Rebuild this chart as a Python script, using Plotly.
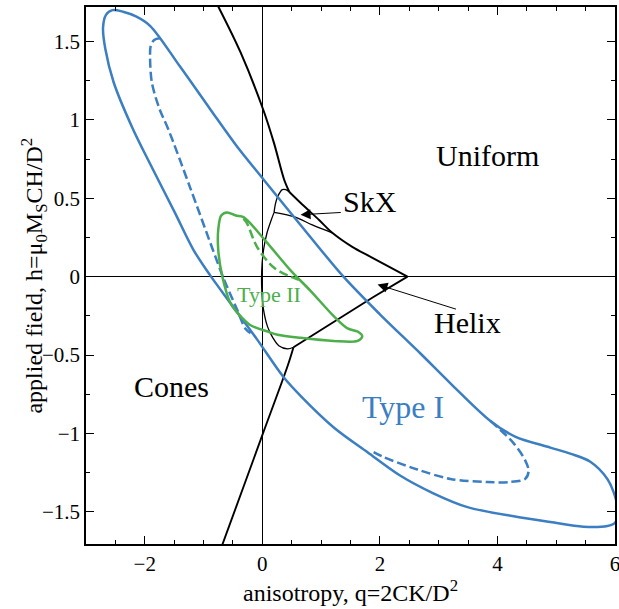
import plotly.graph_objects as go

# ---------------- data (q = anisotropy, h = applied field) ----------------
TYPE1_OUTER_Q = [0.02, 0.65, 1.38, 2.0, 2.69, 3.2, 3.88, 4.3, 4.9, 5.25, 5.58, 5.87, 6.0, 6.05, 6.0, 5.87,
                 5.46, 4.9, 4.3, 3.49, 2.9, 2.35, 1.79, 1.21, 0.65, 0.36, -0.09, -0.54, -0.89, -1.17,
                 -1.49, -1.91, -2.2, -2.53, -2.67, -2.71, -2.66, -2.55, -2.37, -2.15, -1.91, -1.40,
                 -0.89, -0.45, 0.02]
TYPE1_OUTER_H = [0.62, 0.33, 0.0, -0.24, -0.49, -0.68, -0.92, -1.02, -1.09, -1.13, -1.18, -1.29, -1.40,
                 -1.50, -1.57, -1.59, -1.595, -1.565, -1.53, -1.47, -1.38, -1.27, -1.12, -0.96, -0.76,
                 -0.64, -0.40, -0.17, 0.01, 0.17, 0.41, 0.72, 0.94, 1.24, 1.45, 1.59, 1.67, 1.70, 1.69,
                 1.66, 1.60, 1.34, 1.07, 0.84, 0.62]

TYPE1_DASH_A_Q = [-1.74, -1.84, -1.90, -1.91, -1.88, -1.75, -1.60, -1.23, -0.85, -0.66, -0.43, -0.29, -0.20]
TYPE1_DASH_A_H = [1.52, 1.51, 1.47, 1.40, 1.24, 1.07, 0.94, 0.57, 0.18, -0.01, -0.21, -0.33, -0.36]

TYPE1_DASH_B_Q = [3.88, 4.27, 4.47, 4.53, 4.47, 4.2, 3.83, 3.2, 2.64, 2.06, 1.85]
TYPE1_DASH_B_H = [-0.92, -1.06, -1.17, -1.24, -1.29, -1.31, -1.31, -1.29, -1.23, -1.15, -1.11]

TYPE2_Q = [0.65, 1.21, 1.62, 1.70, 1.62, 1.45, 1.21, 0.82, 0.48, 0.05, -0.32, -0.45, -0.60, -0.70,
           -0.75, -0.75, -0.68, -0.54, -0.40, -0.2, 0.09, 0.26, 0.65]
TYPE2_H = [-0.39, -0.41, -0.41, -0.38, -0.35, -0.33, -0.25, -0.09, 0.04, 0.23, 0.38, 0.39, 0.41, 0.39,
           0.30, 0.17, 0.0, -0.17, -0.24, -0.31, -0.35, -0.37, -0.39]

TYPE2_DASH_Q = [-0.32, -0.26, -0.09, 0.19, 0.48, 0.62]
TYPE2_DASH_H = [0.37, 0.34, 0.19, 0.06, 0.0, -0.02]

BOUND_A_Q = [-0.80, -0.37, 0.02, 0.20, 0.37, 0.46]
BOUND_A_H = [1.76, 1.43, 1.06, 0.85, 0.62, 0.54]

SKX_UPPER_Q = [0.46, 0.68, 0.97, 1.19, 1.53, 1.85, 2.47]
SKX_UPPER_H = [0.54, 0.46, 0.36, 0.28, 0.19, 0.125, 0.0]

SKX_CAP_Q = [0.46, 0.40, 0.34, 0.26, 0.22, 0.20]
SKX_CAP_H = [0.54, 0.555, 0.555, 0.51, 0.46, 0.41]

SKX_LOWER_Q = [0.20, 0.56, 0.85, 1.19]
SKX_LOWER_H = [0.41, 0.38, 0.33, 0.28]

HELIX_LEFT_Q = [0.20, 0.15, 0.08, 0.02, -0.01, -0.01, 0.02, 0.09, 0.18, 0.28, 0.43, 0.53]
HELIX_LEFT_H = [0.41, 0.36, 0.28, 0.17, 0.04, -0.08, -0.21, -0.32, -0.39, -0.44, -0.46, -0.45]

HELIX_RIGHT_Q = [0.53, 1.21, 1.89, 2.47]
HELIX_RIGHT_H = [-0.45, -0.29, -0.13, 0.0]

BOUND_B_Q = [0.53, 0.43, 0.02, -0.32, -0.72]
BOUND_B_H = [-0.45, -0.57, -0.99, -1.34, -1.75]

LABELS = ["Uniform", "SkX", "Helix", "Cones", "Type I", "Type II"]
LABEL_Q = [3.83, 1.84, 3.49, -1.55, 2.40, 0.12]
LABEL_H = [0.77, 0.48, -0.29, -0.70, -0.83, -0.115]

ARROW_TIP_Q = [0.65, 1.96]
ARROW_TIP_H = [0.395, -0.05]
ARROW_TAIL_Q = [1.36, 3.32]
ARROW_TAIL_H = [0.41, -0.21]

X_TITLE = "anisotropy, q=2CK/D<sup>2</sup>"
Y_TITLE = "applied field, h=μ<sub>0</sub>M<sub>S</sub>CH/D<sup>2</sup>"

X_RANGE = [-3.0, 6.0]
Y_RANGE = [-1.705, 1.72]

# ---------------- styling ----------------
BLUE = "#3b7ec2"
GREEN = "#4caf4a"
BLACK = "#000000"
FONT = "Liberation Serif"

fig = go.Figure()


def add_line(q, h, color, width, dash="solid", shape="spline"):
    fig.add_trace(go.Scatter(x=q, y=h, mode="lines",
                             line=dict(color=color, width=width, dash=dash, shape=shape, smoothing=0.9),
                             hoverinfo="skip", showlegend=False))


# phase boundaries (black)
add_line(BOUND_A_Q, BOUND_A_H, BLACK, 2.0)
add_line(SKX_UPPER_Q, SKX_UPPER_H, BLACK, 1.9)
add_line(SKX_CAP_Q, SKX_CAP_H, BLACK, 1.3)
add_line(SKX_LOWER_Q, SKX_LOWER_H, BLACK, 1.3)
add_line(HELIX_LEFT_Q, HELIX_LEFT_H, BLACK, 1.3)
add_line(HELIX_RIGHT_Q, HELIX_RIGHT_H, BLACK, 1.9, shape="linear")
add_line(BOUND_B_Q, BOUND_B_H, BLACK, 1.9)

# Type I (blue)
add_line(TYPE1_OUTER_Q, TYPE1_OUTER_H, BLUE, 2.5)
add_line(TYPE1_DASH_A_Q, TYPE1_DASH_A_H, BLUE, 2.5, dash="9px,4px")
add_line(TYPE1_DASH_B_Q, TYPE1_DASH_B_H, BLUE, 2.5, dash="9px,4px")

# Type II (green)
add_line(TYPE2_Q, TYPE2_H, GREEN, 2.5)
add_line(TYPE2_DASH_Q, TYPE2_DASH_H, GREEN, 2.5, dash="9px,4px")

annotations = []
label_colors = [BLACK, BLACK, BLACK, BLACK, BLUE, GREEN]
label_sizes = [30, 30, 30, 30, 32, 22]
for txt, q, h, c, s in zip(LABELS, LABEL_Q, LABEL_H, label_colors, label_sizes):
    annotations.append(dict(x=q, y=h, xref="x", yref="y", text=txt, showarrow=False,
                            font=dict(family=FONT, size=s, color=c),
                            xanchor="center", yanchor="middle"))

for tq, th, aq, ah in zip(ARROW_TIP_Q, ARROW_TIP_H, ARROW_TAIL_Q, ARROW_TAIL_H):
    annotations.append(dict(x=tq, y=th, ax=aq, ay=ah, xref="x", yref="y", axref="x", ayref="y",
                            text="", showarrow=True, arrowhead=2, arrowsize=2.0, arrowwidth=1,
                            arrowcolor=BLACK, standoff=0, startstandoff=0))

# y-axis title as a rotated annotation (exact placement)
annotations.append(dict(x=-0.10, y=0.5, xref="paper", yref="paper", text=Y_TITLE, showarrow=False,
                        textangle=-90, xanchor="center", yanchor="middle",
                        font=dict(family=FONT, size=24, color=BLACK)))

axis_common = dict(
    showgrid=False, showline=True, linecolor=BLACK, linewidth=1.5, mirror="allticks",
    ticks="inside", ticklen=8, tickwidth=1.3, tickcolor=BLACK,
    zeroline=True, zerolinecolor=BLACK, zerolinewidth=1,
    tickfont=dict(family=FONT, size=21, color=BLACK),
    automargin=False, ticklabeloverflow="allow",
)

fig.update_layout(
    width=619, height=609,
    margin=dict(l=86, r=4, t=7, b=65),
    paper_bgcolor="white", plot_bgcolor="white",
    font=dict(family=FONT, color=BLACK),
    annotations=annotations,
    xaxis=dict(range=X_RANGE, tick0=0, dtick=2,
               minor=dict(ticks="inside", dtick=0.5, ticklen=4, tickwidth=1, tickcolor=BLACK),
               title=dict(text=X_TITLE, font=dict(family=FONT, size=24, color=BLACK), standoff=4),
               **axis_common),
    yaxis=dict(range=Y_RANGE, tick0=0, dtick=0.5,
               minor=dict(ticks="inside", dtick=0.25, ticklen=4, tickwidth=1, tickcolor=BLACK),
               **axis_common),
)

fig.write_html("out.html", config={"displayModeBar": False},
               post_script="document.body.style.margin='0';document.body.style.padding='0';")
